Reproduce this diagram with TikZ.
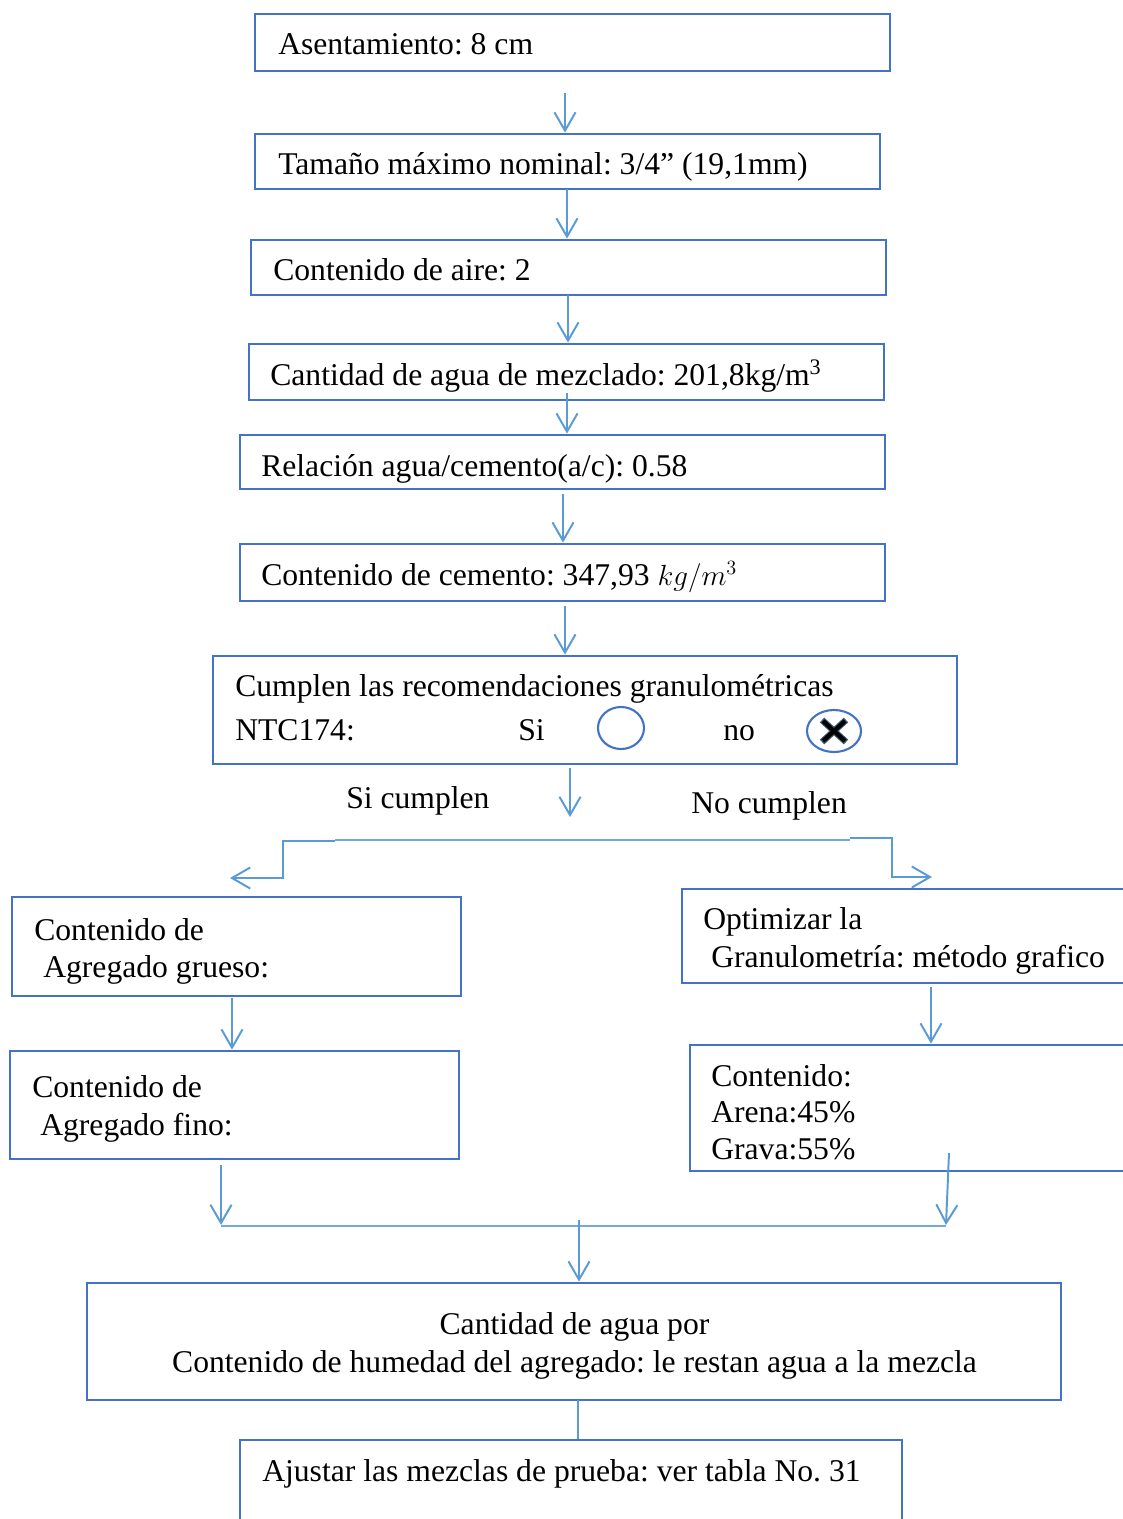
\documentclass[tikz,border=0pt]{standalone}
\usepackage{fontspec}
\setmainfont{Liberation Serif}
\usetikzlibrary{arrows.meta,fit,shapes.geometric}
\definecolor{boxblue}{HTML}{4472C4}
\definecolor{arrblue}{HTML}{5B9BD5}
\definecolor{xedge}{HTML}{3A5A78}
\newcommand\fs{\fontsize{22.5}{27}\selectfont}
\frenchspacing
\tikzset{
 box/.style={draw=boxblue, line width=2pt, inner sep=0pt},
 arr/.style={draw=arrblue, line width=1.4pt, -{Straight Barb[length=13pt,width=15pt]}},
 ln/.style={draw=arrblue!85, line width=1.1pt},
 txt/.style={anchor=base west, inner sep=0pt, font=\fs},
 ctxt/.style={anchor=base, inner sep=0pt, font=\fs},
 circ/.style={draw=boxblue, line width=1.5pt, ellipse, inner sep=0pt},
}
\begin{document}
\begin{tikzpicture}[x=0.025cm,y=-0.025cm]
\frenchspacing
\useasboundingbox (0,0) rectangle (1123,1519);
\clip (0,0) rectangle (1123,1519);
% boxes
\node[box, fit={(255,14) (890,71)}] (b1) {};
\node[box, fit={(255,134) (880,189)}] (b2) {};
\node[box, fit={(251,240) (886,295)}] (b3) {};
\node[box, fit={(249,344) (884,400)}] (b4) {};
\node[box, fit={(240,435) (885,489)}] (b5) {};
\node[box, fit={(240,544) (885,601)}] (b6) {};
\node[box, fit={(213,656) (957,764)}] (b7) {};
\node[box, fit={(12,897) (461,996)}] (b8) {};
\node[box, fit={(682,889) (1150,983)}] (b9) {};
\node[box, fit={(10,1051) (459,1159)}] (b10) {};
\node[box, fit={(690,1045) (1150,1171)}] (b11) {};
\node[box, fit={(87,1283) (1061,1400)}] (b12) {};
\node[box, fit={(240,1440) (902,1535)}] (b13) {};
% texts
\node[txt] (t1) at (278,54) {Asentamiento: 8 cm};
\node[txt] (t2) at (278,174) {Tamaño máximo nominal: 3/4” (19,1mm)};
\node[txt] (t3) at (273,280) {Contenido de aire: 2};
\node[txt] (t4) at (270,385) {Cantidad de agua de mezclado: 201,8kg/m\textsuperscript{3}};
\node[txt] (t5) at (261,476) {Relación agua/cemento(a/c): 0.58};
\node[txt] (t6) at (261,585) {Contenido de cemento: 347,93 $kg/m^3$};
\node[txt] (t7a) at (235,696) {Cumplen las recomendaciones granulométricas};
\node[txt] (t7b) at (235,740) {NTC174:};
\node[txt] (tsi) at (518,740) {Si};
\node[txt] (tno) at (723,740) {no};
\node[circ, minimum width=1.15cm, minimum height=1.05cm] (c1) at (621,728) {};
\node[circ, minimum width=1.35cm, minimum height=1.05cm] (c2) at (834,731) {};
\draw[line width=4.6pt, xedge] (c2.center) ++(-12,-11) -- ++(24,22) (c2.center) ++(-12,11) -- ++(24,-22);
\draw[line width=3pt, black] (c2.center) ++(-11,-10) -- ++(22,20) (c2.center) ++(-11,10) -- ++(22,-20);
\node[txt] (tsc) at (346,808) {Si cumplen};
\node[txt] (tnc) at (691,813) {No cumplen};
\node[txt] (t8a) at (34,940) {Contenido de};
\node[txt] (t8b) at (43,977) {Agregado grueso:};
\node[txt] (t9a) at (703,929) {Optimizar la};
\node[txt] (t9b) at (711,967) {Granulometría: método grafico};
\node[txt] (t10a) at (32,1097) {Contenido de};
\node[txt] (t10b) at (40,1135) {Agregado fino:};
\node[txt] (t11a) at (711,1086) {Contenido:};
\node[txt] (t11b) at (711,1122) {Arena:45\%};
\node[txt] (t11c) at (711,1159) {Grava:55\%};
\node[ctxt] (t12a) at (574.5,1334) {Cantidad de agua por};
\node[ctxt] (t12b) at (574.5,1372) {Contenido de humedad del agregado: le restan agua a la mezcla};
\node[txt] (t13) at (262,1481) {Ajustar las mezclas de prueba: ver tabla No. 31};
% connectors
\coordinate (a1) at (565,93);
\draw[arr] (a1) -- (a1 |- b2.north);
\coordinate (a2) at (567,189);
\draw[arr] (a2) -- (a2 |- b3.north);
\coordinate (a3) at (568,295);
\draw[arr] (a3) -- (a3 |- b4.north);
\coordinate (a4) at (567,393);
\draw[arr] (a4) -- (a4 |- b5.north);
\coordinate (a5) at (563,494);
\draw[arr] (a5) -- (a5 |- b6.north);
\coordinate (a6) at (565,606);
\draw[arr] (a6) -- (a6 |- b7.north);
\coordinate (a7) at (570,768);
\coordinate (a7e) at (570,817);
\draw[arr] (a7) -- (a7e);
% branch
\coordinate (bl) at (335,840);
\coordinate (brr) at (850,840);
\coordinate (blend) at (230,878);
\coordinate (brend) at (932,877);
\draw[ln] (bl) -- (brr);
\draw[arr] (335,841) -- (283,841) -- (283,878) -- (blend);
\draw[arr] (850,838) -- (892,838) -- (892,877) -- (brend);
\coordinate (a8) at (232,998);
\draw[arr] (a8) -- (a8 |- b10.north);
\coordinate (a9) at (931,987);
\draw[arr] (a9) -- (a9 |- b11.north);
% merge
\coordinate (ml) at (221,1165);
\coordinate (mle) at (221,1225);
\coordinate (mr) at (949,1153);
\coordinate (mre) at (946,1225);
\draw[arr] (ml) -- (mle);
\draw[arr] (mr) -- (mre);
\draw[ln] (221,1226) -- (946,1226);
\coordinate (mc) at (579,1220);
\draw[arr] (mc) -- (mc |- b12.north);
\coordinate (l12) at (578,1400);
\draw[draw=arrblue, line width=1.4pt] (l12) -- (l12 |- b13.north);
\end{tikzpicture}
\end{document}
